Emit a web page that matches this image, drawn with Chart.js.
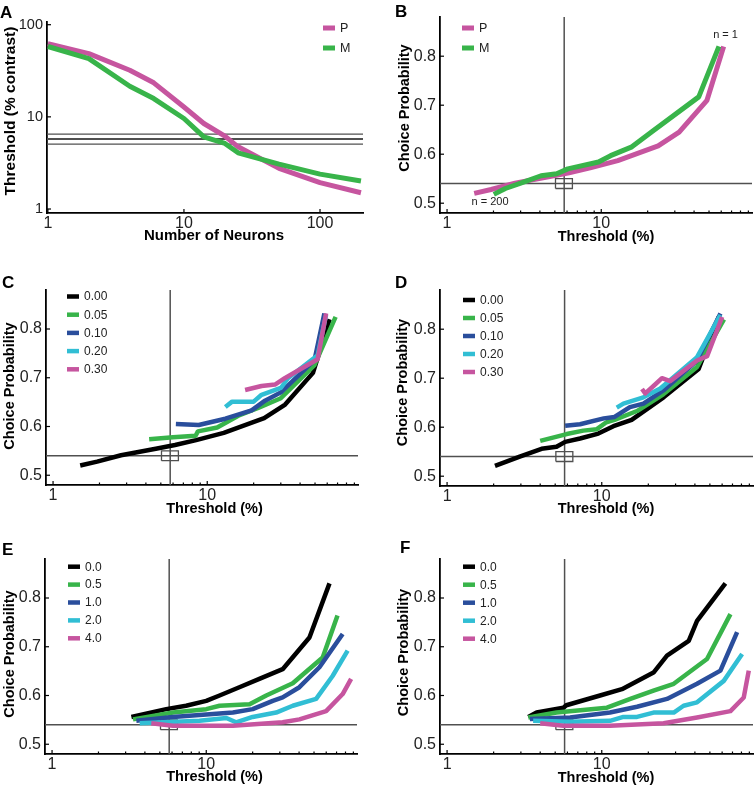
<!DOCTYPE html>
<html>
<head>
<meta charset="utf-8">
<title>Threshold and choice probability</title>
<script src="https://cdn.jsdelivr.net/npm/chart.js@4.4.0/dist/chart.umd.min.js"></script>
<style>
    body { margin: 0; background: #fff; }
    #figure { position: relative; width: 754px; height: 790px; overflow: hidden; }
    #figure canvas { position: absolute; }
</style>
</head>
<body>
<div id="figure">
    <canvas id="panelA" width="377" height="260" style="left:0px;top:0px"></canvas>
    <canvas id="panelB" width="377" height="260" style="left:377px;top:0px"></canvas>
    <canvas id="panelC" width="377" height="265" style="left:0px;top:260px"></canvas>
    <canvas id="panelD" width="377" height="265" style="left:377px;top:260px"></canvas>
    <canvas id="panelE" width="377" height="265" style="left:0px;top:525px"></canvas>
    <canvas id="panelF" width="377" height="265" style="left:377px;top:525px"></canvas>
</div>
<script>
// ---- Data ----

// Panel A: threshold vs number of neurons
const nNeurons = [1, 2, 4, 6, 10, 14, 20, 25, 50, 100, 200];
const thrP = [62.2, 48.5, 32, 23.4, 12.8, 8.47, 6.18, 4.73, 2.76, 1.93, 1.5];
const thrM = [58, 42.9, 21.5, 15.8, 9.6, 6.07, 5.14, 4.07, 3.07, 2.39, 2.01];
const aRefLevels = [5.05, 5.75, 6.5];
const aTicks = [1, 10, 100];

// Panel B: choice probability vs threshold, P and M
const bThrP = [1.5, 1.93, 2.76, 4.73, 6.18, 8.47, 12.8, 23.4, 32, 48.5, 62.2];
const bCpP = [0.52, 0.528, 0.541, 0.555, 0.562, 0.572, 0.587, 0.617, 0.645, 0.71, 0.82];
const bThrM = [2.01, 2.39, 3.07, 4.07, 5.14, 6.07, 9.6, 11.5, 15.8, 21.5, 42.9, 58];
const bCpM = [0.518, 0.53, 0.542, 0.556, 0.56, 0.57, 0.584, 0.597, 0.615, 0.647, 0.717, 0.82];

// Panel C: correlation levels
const corrLabels = ['0.00', '0.05', '0.10', '0.20', '0.30'];
const cThr = [
    [1.5, 1.93, 2.76, 4.73, 6.18, 8.47, 12.8, 23.4, 32, 48.5, 62.2],
    [4.2, 6.0, 8.4, 8.7, 11.6, 15.9, 21.4, 30, 49.6, 68],
    [6.26, 8.8, 13.1, 19.4, 23.7, 30, 49.6, 57.5],
    [13.1, 14.5, 20, 22.5, 30, 33.4, 52, 59],
    [17.6, 22.5, 27.5, 31.8, 52, 59]
];
const cCp = [
    [0.52, 0.528, 0.541, 0.555, 0.562, 0.572, 0.587, 0.617, 0.645, 0.71, 0.82],
    [0.574, 0.578, 0.581, 0.59, 0.598, 0.622, 0.638, 0.658, 0.726, 0.825],
    [0.605, 0.603, 0.616, 0.633, 0.653, 0.67, 0.736, 0.832],
    [0.64, 0.651, 0.651, 0.665, 0.679, 0.699, 0.746, 0.829],
    [0.675, 0.683, 0.686, 0.699, 0.738, 0.832]
];

// Panel D
const dThr = [
    [2.04, 2.95, 4.08, 5.1, 5.8, 7.24, 9.5, 11.9, 15.6, 25.1, 42.3, 57],
    [4.0, 5.93, 7.6, 9.3, 10.7, 12.1, 16.9, 25, 41.3, 61.7],
    [5.8, 7.24, 10.3, 12.1, 15.2, 18.6, 25, 41.3, 58.5],
    [12.5, 13.8, 18.6, 23.9, 41.3, 58.5],
    [18.2, 19.1, 21.6, 24.5, 27.7, 41.3, 48, 60]
];
const dCp = [
    [0.521, 0.54, 0.556, 0.56, 0.57, 0.577, 0.587, 0.602, 0.615, 0.661, 0.719, 0.825],
    [0.572, 0.586, 0.593, 0.596, 0.61, 0.615, 0.633, 0.667, 0.723, 0.82],
    [0.603, 0.606, 0.618, 0.621, 0.641, 0.648, 0.675, 0.736, 0.832],
    [0.64, 0.648, 0.661, 0.679, 0.743, 0.829],
    [0.678, 0.669, 0.684, 0.7, 0.694, 0.736, 0.745, 0.825]
];

// Panel E: pooling noise levels
const noiseLabels = ['0.0', '0.5', '1.0', '2.0', '4.0'];
const eThr = [
    [3.27, 5.5, 7.4, 10, 12.2, 16.4, 22.1, 31.3, 46.7, 63],
    [3.35, 6.08, 10, 12.2, 19.1, 24.5, 36.4, 56.9, 71],
    [3.52, 6.08, 14.9, 20, 27, 31.3, 40.2, 54.2, 76.7],
    [3.7, 9.05, 13.5, 15.6, 20, 28.4, 36.4, 51.6, 66, 82.6],
    [4.4, 6.08, 14.9, 31.3, 40.2, 59.9, 76.7, 87]
];
const eCp = [
    [0.556, 0.572, 0.579, 0.589, 0.6, 0.617, 0.634, 0.654, 0.719, 0.83],
    [0.551, 0.565, 0.572, 0.579, 0.582, 0.6, 0.625, 0.678, 0.764],
    [0.548, 0.556, 0.565, 0.572, 0.589, 0.596, 0.617, 0.658, 0.726],
    [0.543, 0.548, 0.554, 0.545, 0.556, 0.565, 0.579, 0.593, 0.64, 0.692],
    [0.543, 0.538, 0.538, 0.545, 0.551, 0.568, 0.603, 0.634]
];

// Panel F
const fThr = [
    [3.35, 3.79, 5.65, 5.9, 9.75, 13.5, 21.6, 26.4, 36.5, 41.3, 63],
    [3.35, 5.1, 10.8, 15.3, 21.6, 29.2, 47.9, 67.9],
    [3.43, 6.24, 11.3, 16.9, 26.4, 41.3, 58.5, 75],
    [3.6, 6.24, 11.3, 13.8, 16.9, 21.6, 29.2, 33.8, 41.3, 61.5, 80.8],
    [4.0, 5.65, 11.3, 25.1, 41.3, 67.9, 82.8, 89.2]
];
const fCp = [
    [0.556, 0.565, 0.575, 0.58, 0.6, 0.613, 0.647, 0.682, 0.712, 0.753, 0.83],
    [0.555, 0.565, 0.575, 0.593, 0.61, 0.624, 0.675, 0.767],
    [0.552, 0.555, 0.565, 0.577, 0.593, 0.624, 0.651, 0.73],
    [0.548, 0.546, 0.548, 0.556, 0.556, 0.565, 0.565, 0.579, 0.586, 0.63, 0.685],
    [0.543, 0.538, 0.538, 0.543, 0.555, 0.568, 0.596, 0.651]
];

// Axis ticks and reference marks for the choice-probability panels
const cpXTicks = [1, 2, 3, 4, 5, 6, 7, 8, 9, 10, 20, 30, 40, 50, 60, 70, 80, 90];
const cpXLabels = [1, 10];
const cpYTicks = [0.5, 0.6, 0.7, 0.8];
const cpXRange = [0.9, 95];
const cpYRange = [0.48, 0.88];
const crossX = 5.75;
const crossY = 0.54;
const boxX = [5.05, 6.5];
const boxY = [0.53, 0.55];

// ---- Styling ----
const FONT = '"Liberation Sans", Arial, Helvetica, sans-serif';
const COLORS = ['#000000', '#38b44a', '#2a4e9c', '#31bed4', '#c6559f'];
const MAGENTA = COLORS[4];
const GREEN = COLORS[1];
const REF_COLOR = '#505050';

Chart.defaults.font.family = FONT;
Chart.defaults.color = '#222222';

// legend / text settings per canvas, kept outside Chart.js option resolution
const panelExtras = {};

function xyPairs(xs, ys) {
    return xs.map((x, i) => ({ x: x, y: ys[i] }));
}

function curve(label, xs, ys, color, width, order) {
    return {
        label: label,
        data: xyPairs(xs, ys),
        borderColor: color,
        backgroundColor: color,
        borderWidth: width,
        pointRadius: 0,
        tension: 0,
        borderJoinStyle: 'round',
        order: order
    };
}

function refLine(points, width) {
    return {
        data: points,
        borderColor: REF_COLOR,
        borderWidth: width,
        pointRadius: 0,
        tension: 0,
        order: 100
    };
}

// Reference cross and little box used on every choice-probability panel
function cpReferences() {
    return [
        refLine([{ x: crossX, y: cpYRange[0] }, { x: crossX, y: cpYRange[1] }], 1.5),
        refLine([{ x: cpXRange[0], y: crossY }, { x: cpXRange[1], y: crossY }], 1.5),
        refLine([
            { x: boxX[0], y: boxY[0] }, { x: boxX[1], y: boxY[0] },
            { x: boxX[1], y: boxY[1] }, { x: boxX[0], y: boxY[1] },
            { x: boxX[0], y: boxY[0] }
        ], 1.3)
    ];
}

function seriesSet(labels, thr, cp, width) {
    return labels.map((lab, i) => curve(lab, thr[i], cp[i], COLORS[i], width, labels.length - i));
}

// Plugin: inward tick marks, legend with line swatches, panel letters and axis titles
const panelDecor = {
    id: 'panelDecor',
    afterDraw(chart) {
        const extra = panelExtras[chart.canvas.id] || {};
        const ctx = chart.ctx;
        const area = chart.chartArea;
        const sx = chart.scales.x;
        const sy = chart.scales.y;
        ctx.save();

        // tick marks pointing into the plot
        ctx.strokeStyle = '#000';
        ctx.lineWidth = 1.2;
        sx.ticks.forEach(t => {
            const px = sx.getPixelForValue(t.value);
            const len = t.label ? 4 : 2.5;
            ctx.beginPath();
            ctx.moveTo(px, area.bottom);
            ctx.lineTo(px, area.bottom - len);
            ctx.stroke();
        });
        sy.ticks.forEach(t => {
            const py = sy.getPixelForValue(t.value);
            ctx.beginPath();
            ctx.moveTo(area.left, py);
            ctx.lineTo(area.left + 4, py);
            ctx.stroke();
        });

        // legend
        if (extra.legend) {
            const lg = extra.legend;
            const items = chart.data.datasets.filter(d => d.label);
            ctx.font = lg.size + 'px ' + FONT;
            ctx.textBaseline = 'middle';
            ctx.textAlign = 'left';
            items.forEach((d, i) => {
                const y = lg.y + i * lg.step;
                ctx.fillStyle = d.borderColor;
                ctx.fillRect(lg.x, y - lg.swatchH / 2, lg.swatchW, lg.swatchH);
                ctx.fillStyle = '#222';
                ctx.fillText(d.label, lg.x + lg.swatchW + 5, y + 0.5);
            });
        }

        // free texts
        (extra.texts || []).forEach(t => {
            let x = t.x;
            let y = t.y;
            if (t.at) {
                x = sx.getPixelForValue(t.at[0]);
                y = sy.getPixelForValue(t.at[1]);
            }
            ctx.save();
            ctx.font = (t.bold ? 'bold ' : '') + t.size + 'px ' + FONT;
            ctx.fillStyle = t.color || '#000';
            ctx.textAlign = t.align || 'center';
            ctx.textBaseline = t.baseline || 'middle';
            ctx.translate(x, y);
            if (t.rotate) ctx.rotate(t.rotate);
            ctx.fillText(t.text, 0, 0);
            ctx.restore();
        });

        ctx.restore();
    }
};

function makePanel(id, p) {
    const canvas = document.getElementById(id);
    const W = canvas.width;
    const H = canvas.height;
    panelExtras[id] = { legend: p.legend, texts: p.texts };
    return new Chart(canvas, {
        type: 'line',
        data: { datasets: p.datasets },
        options: {
            responsive: false,
            animation: false,
            devicePixelRatio: 1,
            layout: { padding: { left: 0, top: p.area.top, right: W - p.area.right, bottom: 0 } },
            scales: {
                x: {
                    type: 'logarithmic',
                    min: p.xRange[0],
                    max: p.xRange[1],
                    afterBuildTicks: s => { s.ticks = p.xTicks.map(v => ({ value: v })); },
                    afterFit: s => { s.height = H - p.area.bottom; },
                    ticks: {
                        autoSkip: false,
                        maxRotation: 0,
                        minRotation: 0,
                        padding: 1,
                        font: { size: 16 },
                        callback: v => p.xLabels.includes(v) ? String(v) : ''
                    },
                    grid: { display: false, drawTicks: false },
                    border: { display: true, color: '#000', width: 1.8 }
                },
                y: {
                    type: p.yType,
                    min: p.yRange[0],
                    max: p.yRange[1],
                    afterBuildTicks: s => { s.ticks = p.yTicks.map(v => ({ value: v })); },
                    afterFit: s => { s.width = p.area.left; },
                    ticks: {
                        autoSkip: false,
                        padding: 4,
                        font: { size: p.yTickSize || 16 },
                        callback: p.yFormat
                    },
                    grid: { display: false, drawTicks: false },
                    border: { display: true, color: '#000', width: 1.8 }
                }
            },
            plugins: {
                legend: { display: false },
                tooltip: { enabled: false }
            }
        },
        plugins: [panelDecor]
    });
}

const ROT = -Math.PI / 2;
const cpFormat = v => v.toFixed(1);

function cpTexts(letter, lx, ly, xt, yt) {
    return [
        { text: letter, x: lx, y: ly, size: 17, bold: true, align: 'left', baseline: 'alphabetic' },
        { text: 'Threshold (%)', x: xt[0], y: xt[1], size: 14.5, bold: true },
        { text: 'Choice Probability', x: yt[0], y: yt[1], size: 14.5, bold: true, rotate: ROT }
    ];
}

// Panel A
makePanel('panelA', {
    area: { left: 47, top: 22, right: 363, bottom: 213 },
    xRange: [0.985, 207],
    yRange: [0.905, 107],
    yType: 'logarithmic',
    xTicks: aTicks,
    xLabels: aTicks,
    yTicks: aTicks,
    yTickSize: 14.5,
    yFormat: v => String(v),
    datasets: [
        curve('P', nNeurons, thrP, MAGENTA, 5, 1),
        curve('M', nNeurons, thrM, GREEN, 5, 0)
    ].concat(aRefLevels.map((lvl, i) => refLine([{ x: 0.985, y: lvl }, { x: 207, y: lvl }], i === 1 ? 1.8 : 1.3))),
    legend: { x: 323, y: 28, step: 20, swatchW: 12, swatchH: 5, size: 12.5 },
    texts: [
        { text: 'A', x: 0, y: 18, size: 17, bold: true, align: 'left', baseline: 'alphabetic' },
        { text: 'Number of Neurons', x: 214, y: 236, size: 15, bold: true },
        { text: 'Threshold (% contrast)', x: 11, y: 111, size: 15.5, bold: true, rotate: ROT }
    ]
});

// Panel B
makePanel('panelB', {
    area: { left: 63, top: 17, right: 375, bottom: 213 },
    xRange: cpXRange,
    yRange: cpYRange,
    yType: 'linear',
    xTicks: cpXTicks,
    xLabels: cpXLabels,
    yTicks: cpYTicks,
    yFormat: cpFormat,
    datasets: [
        curve('P', bThrP, bCpP, MAGENTA, 5, 1),
        curve('M', bThrM, bCpM, GREEN, 5, 0)
    ].concat(cpReferences()),
    legend: { x: 85, y: 28, step: 20, swatchW: 12, swatchH: 5, size: 12.5 },
    texts: cpTexts('B', 18, 17, [229, 237], [28, 108]).concat([
        { text: 'n = 200', at: [1.9, 0.496], size: 11, color: '#222', baseline: 'alphabetic' },
        { text: 'n = 1', at: [64, 0.838], size: 11, color: '#222', baseline: 'alphabetic' }
    ])
});

// Panel C
makePanel('panelC', {
    area: { left: 46, top: 30, right: 358, bottom: 225 },
    xRange: cpXRange,
    yRange: cpYRange,
    yType: 'linear',
    xTicks: cpXTicks,
    xLabels: cpXLabels,
    yTicks: cpYTicks,
    yFormat: cpFormat,
    datasets: seriesSet(corrLabels, cThr, cCp, 4.5).concat(cpReferences()),
    legend: { x: 67, y: 36.5, step: 18.2, swatchW: 12, swatchH: 4.5, size: 12 },
    texts: cpTexts('C', 2, 28, [214.5, 249], [10, 126])
});

// Panel D
makePanel('panelD', {
    area: { left: 63, top: 30, right: 376, bottom: 226 },
    xRange: cpXRange,
    yRange: cpYRange,
    yType: 'linear',
    xTicks: cpXTicks,
    xLabels: cpXLabels,
    yTicks: cpYTicks,
    yFormat: cpFormat,
    datasets: seriesSet(corrLabels, dThr, dCp, 4.5).concat(cpReferences()),
    legend: { x: 86, y: 40, step: 18, swatchW: 12, swatchH: 4.5, size: 12 },
    texts: cpTexts('D', 18, 28, [229, 249], [26, 122.5])
});

// Panel E
makePanel('panelE', {
    area: { left: 45, top: 34, right: 357, bottom: 229 },
    xRange: cpXRange,
    yRange: cpYRange,
    yType: 'linear',
    xTicks: cpXTicks,
    xLabels: cpXLabels,
    yTicks: cpYTicks,
    yFormat: cpFormat,
    datasets: seriesSet(noiseLabels, eThr, eCp, 4.5).concat(cpReferences()),
    legend: { x: 68, y: 41.7, step: 17.9, swatchW: 12, swatchH: 4.5, size: 12 },
    texts: cpTexts('E', 2, 30, [214.5, 252], [10, 129])
});

// Panel F
makePanel('panelF', {
    area: { left: 63, top: 34, right: 376, bottom: 229 },
    xRange: cpXRange,
    yRange: cpYRange,
    yType: 'linear',
    xTicks: cpXTicks,
    xLabels: cpXLabels,
    yTicks: cpYTicks,
    yFormat: cpFormat,
    datasets: seriesSet(noiseLabels, fThr, fCp, 4.5).concat(cpReferences()),
    legend: { x: 86, y: 41.7, step: 18, swatchW: 12, swatchH: 4.5, size: 12 },
    texts: cpTexts('F', 23, 28, [229, 253], [26.5, 127.5])
});
</script>
</body>
</html>
